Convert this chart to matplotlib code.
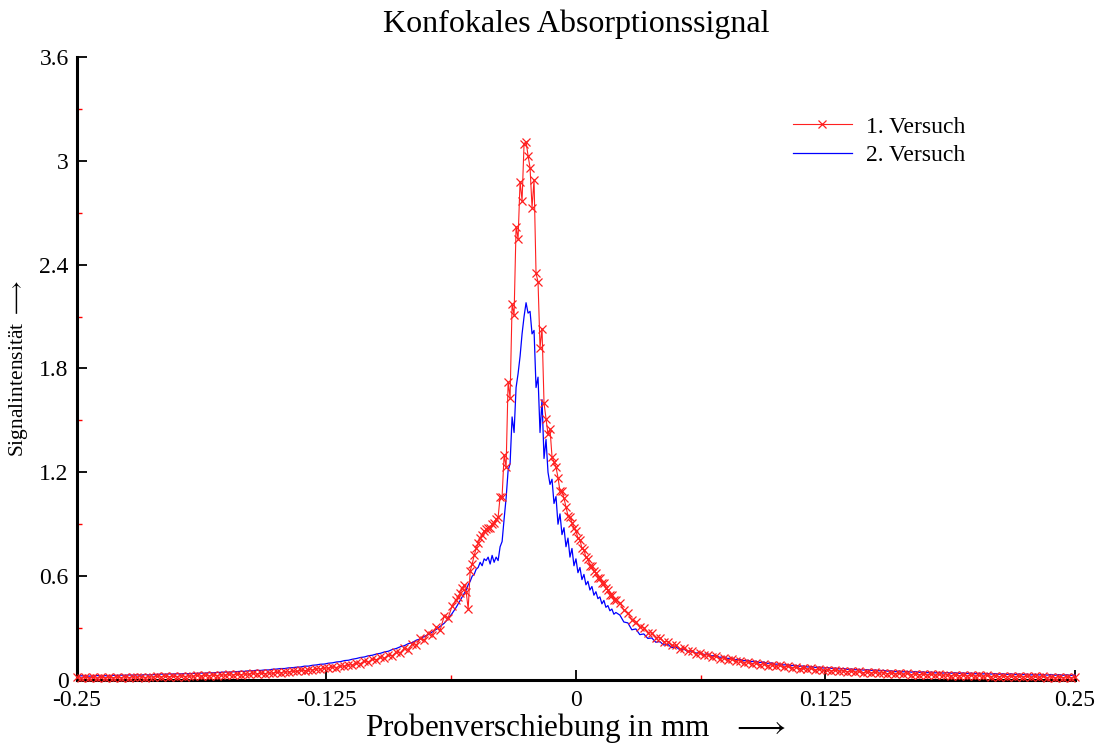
import numpy as np
import matplotlib
matplotlib.use("Agg")
import matplotlib.pyplot as plt
from matplotlib.ticker import FixedLocator

plt.rcParams['font.family'] = ['Liberation Serif', 'DejaVu Serif']
plt.rcParams['mathtext.fontset'] = 'stix'

# --- Daten ---
# drei Abschnitte: linke Flanke (Schritt 0.002), Kern (0.001), rechte Flanke (0.002)
red_left = [
    0.016, 0.010, 0.018, 0.012, 0.015, 0.011, 0.017, 0.013, 0.016, 0.012,
    0.017, 0.013, 0.019, 0.014, 0.018, 0.015, 0.020, 0.014, 0.019, 0.016,
    0.021, 0.017, 0.023, 0.018, 0.022, 0.019, 0.025, 0.020, 0.024, 0.021,
    0.026, 0.022, 0.028, 0.024, 0.029, 0.025, 0.031, 0.027, 0.032, 0.028,
    0.034, 0.030, 0.036, 0.032, 0.038, 0.034, 0.040, 0.036, 0.042, 0.038,
    0.045, 0.041, 0.048, 0.045, 0.052, 0.049, 0.056, 0.053, 0.060, 0.057,
    0.066, 0.062, 0.070, 0.067, 0.076, 0.072, 0.082, 0.078, 0.089, 0.085,
    0.099, 0.095, 0.108, 0.104, 0.119, 0.117, 0.130, 0.125, 0.143, 0.140,
    0.162, 0.155, 0.183, 0.176, 0.208, 0.200, 0.240, 0.230, 0.270, 0.262,
    0.305, 0.290, 0.370, 0.360, 0.430,
]
red_core = [
    0.46, 0.48, 0.50, 0.53, 0.55, 0.51, 0.41, 0.63, 0.67, 0.72,
    0.76, 0.79, 0.82, 0.84, 0.86, 0.87, 0.88, 0.88, 0.90, 0.91,
    0.93, 0.94, 1.06, 1.06, 1.30, 1.23, 1.72, 1.63, 2.17, 2.11,
    2.62, 2.55, 2.88, 2.77, 3.10, 3.11, 3.03, 2.96, 2.73, 2.89,
    2.35, 2.30, 1.92, 2.03, 1.60, 1.51, 1.42, 1.45, 1.29, 1.26,
    1.23, 1.17, 1.09, 1.09, 1.05, 1.00, 0.95, 0.94, 0.91, 0.88,
    0.86, 0.82, 0.81, 0.76, 0.75, 0.71, 0.70, 0.66, 0.66, 0.63,
    0.62, 0.59, 0.59, 0.56, 0.56, 0.53, 0.52, 0.49, 0.49, 0.46,
    0.46,
]
red_right = [
    0.446, 0.404, 0.386, 0.349, 0.336, 0.304, 0.301, 0.274, 0.271, 0.244,
    0.244, 0.221, 0.222, 0.200, 0.201, 0.181, 0.185, 0.165, 0.170, 0.152,
    0.157, 0.142, 0.146, 0.132, 0.137, 0.123, 0.129, 0.115, 0.121, 0.107,
    0.112, 0.101, 0.105, 0.094, 0.099, 0.088, 0.094, 0.083, 0.089, 0.078,
    0.084, 0.073, 0.079, 0.069, 0.075, 0.065, 0.071, 0.061, 0.067, 0.057,
    0.062, 0.055, 0.060, 0.052, 0.057, 0.050, 0.054, 0.047, 0.052, 0.044,
    0.049, 0.042, 0.047, 0.040, 0.045, 0.038, 0.043, 0.036, 0.041, 0.034,
    0.039, 0.032, 0.038, 0.031, 0.036, 0.030, 0.035, 0.028, 0.034, 0.027,
    0.032, 0.026, 0.031, 0.025, 0.030, 0.024, 0.029, 0.023, 0.028, 0.022,
    0.027, 0.021, 0.026, 0.020, 0.025, 0.019, 0.025, 0.018, 0.024, 0.017,
    0.023, 0.017, 0.022, 0.016, 0.021, 0.015, 0.021, 0.014, 0.020, 0.013,
    0.019, 0.013, 0.018, 0.012, 0.017,
]

blue_left = [
    0.026, 0.024, 0.025, 0.022, 0.024, 0.026, 0.023, 0.025, 0.024, 0.027,
    0.026, 0.028, 0.027, 0.029, 0.028, 0.030, 0.028, 0.031, 0.029, 0.031,
    0.032, 0.034, 0.033, 0.035, 0.034, 0.036, 0.035, 0.037, 0.036, 0.038,
    0.038, 0.040, 0.039, 0.042, 0.041, 0.043, 0.044, 0.046, 0.045, 0.047,
    0.048, 0.050, 0.050, 0.053, 0.053, 0.056, 0.055, 0.058, 0.058, 0.062,
    0.063, 0.066, 0.066, 0.070, 0.071, 0.074, 0.075, 0.080, 0.080, 0.085,
    0.087, 0.091, 0.092, 0.097, 0.099, 0.104, 0.106, 0.112, 0.114, 0.120,
    0.124, 0.130, 0.133, 0.140, 0.143, 0.150, 0.154, 0.162, 0.166, 0.176,
    0.182, 0.192, 0.198, 0.210, 0.216, 0.230, 0.237, 0.252, 0.262, 0.278,
    0.292, 0.310, 0.328, 0.355, 0.385,
]
blue_core = [
    0.42, 0.44, 0.46, 0.48, 0.50, 0.52, 0.55, 0.57, 0.60, 0.61,
    0.64, 0.65, 0.68, 0.66, 0.70, 0.69, 0.71, 0.67, 0.72, 0.68,
    0.71, 0.69, 0.77, 0.80, 0.93, 1.05, 1.21, 1.25, 1.52, 1.43,
    1.69, 1.77, 1.87, 2.00, 2.10, 2.18, 2.12, 2.13, 2.00, 2.02,
    1.69, 1.75, 1.43, 1.62, 1.28, 1.39, 1.20, 1.13, 1.16, 1.02,
    1.06, 0.90, 0.96, 0.84, 0.88, 0.77, 0.82, 0.71, 0.76, 0.66,
    0.70, 0.62, 0.65, 0.58, 0.61, 0.55, 0.57, 0.52, 0.54, 0.49,
    0.51, 0.47, 0.48, 0.44, 0.46, 0.42, 0.43, 0.40, 0.41, 0.38,
    0.39,
]
blue_right = [
    0.375, 0.335, 0.330, 0.290, 0.295, 0.262, 0.266, 0.240, 0.243, 0.218,
    0.222, 0.202, 0.206, 0.187, 0.192, 0.175, 0.179, 0.164, 0.168, 0.155,
    0.159, 0.147, 0.151, 0.139, 0.142, 0.131, 0.134, 0.124, 0.127, 0.117,
    0.120, 0.111, 0.114, 0.106, 0.109, 0.101, 0.104, 0.096, 0.099, 0.091,
    0.093, 0.087, 0.089, 0.083, 0.085, 0.079, 0.081, 0.075, 0.078, 0.072,
    0.075, 0.069, 0.072, 0.067, 0.069, 0.064, 0.067, 0.061, 0.064, 0.059,
    0.062, 0.057, 0.060, 0.055, 0.058, 0.053, 0.056, 0.051, 0.053, 0.048,
    0.052, 0.047, 0.050, 0.045, 0.049, 0.044, 0.047, 0.042, 0.046, 0.041,
    0.044, 0.040, 0.043, 0.039, 0.042, 0.038, 0.041, 0.037, 0.040, 0.036,
    0.039, 0.035, 0.038, 0.034, 0.037, 0.033, 0.036, 0.032, 0.036, 0.031,
    0.035, 0.031, 0.034, 0.029, 0.033, 0.029, 0.032, 0.028, 0.032, 0.027,
    0.031, 0.027, 0.030, 0.026, 0.030,
]

xticks = [-0.25, -0.125, 0, 0.125, 0.25]
xtick_labels = ['-0.25', '-0.125', '0', '0.125', '0.25']
yticks = [0, 0.6, 1.2, 1.8, 2.4, 3.0, 3.6]
ytick_labels = ['0', '0.6', '1.2', '1.8', '2.4', '3', '3.6']


def xgrid(left, core, right):
    # Abtastpositionen der drei Abschnitte
    xl = np.linspace(-0.250, -0.062, len(left))
    xc = np.linspace(-0.060, 0.020, len(core))
    xr = np.linspace(0.022, 0.250, len(right))
    return np.concatenate([xl, xc, xr]), np.array(left + core + right)


x_red, y_red = xgrid(red_left, red_core, red_right)
x_blue, y_blue = xgrid(blue_left, blue_core, blue_right)

fig = plt.figure(figsize=(10.98, 7.46), dpi=100)
ax = fig.add_axes([0.0701, 0.0885, 0.9089, 0.8351])

ax.plot(x_red, y_red, color='#ff2020', lw=0.8, marker='x', ms=5.5,
        mew=0.9, label='1. Versuch', clip_on=False, zorder=3)
ax.plot(x_blue, y_blue, color='#0000ff', lw=0.9, label='2. Versuch',
        clip_on=False, zorder=2)

ax.set_xlim(-0.25, 0.25)
ax.set_ylim(0, 3.6)

for s in ['top', 'right']:
    ax.spines[s].set_visible(False)
for s in ['left', 'bottom']:
    ax.spines[s].set_linewidth(2.2)

ax.set_xticks(xticks)
ax.set_xticklabels(xtick_labels)
ax.set_yticks(yticks)
ax.set_yticklabels(ytick_labels)
ax.xaxis.set_minor_locator(FixedLocator([-0.1875, -0.0625, 0.0625, 0.1875]))
ax.yaxis.set_minor_locator(FixedLocator([0.3, 0.9, 1.5, 2.1, 2.7, 3.3]))
ax.tick_params(which='major', direction='in', length=7, width=1.3,
               labelsize=17)
ax.tick_params(axis='x', which='major', pad=7)
ax.tick_params(axis='y', which='major', pad=6)
ax.tick_params(which='minor', direction='in', length=3.5, width=1,
               color='red')

ax.set_title('Konfokales Absorptionssignal', fontsize=23, pad=18)
ax.set_xlabel(r'Probenverschiebung in mm   $\longrightarrow$', fontsize=22.5,
              labelpad=0)
ax.set_ylabel(r'Signalintensität $\longrightarrow$', fontsize=15.5,
              labelpad=7)

ax.legend(loc='upper left', bbox_to_anchor=(0.717, 0.905), frameon=False,
          fontsize=17, handlelength=2.5, handletextpad=0.6,
          labelspacing=0.28, numpoints=1, borderaxespad=0, borderpad=0)

fig.savefig('out.png', dpi=100)
